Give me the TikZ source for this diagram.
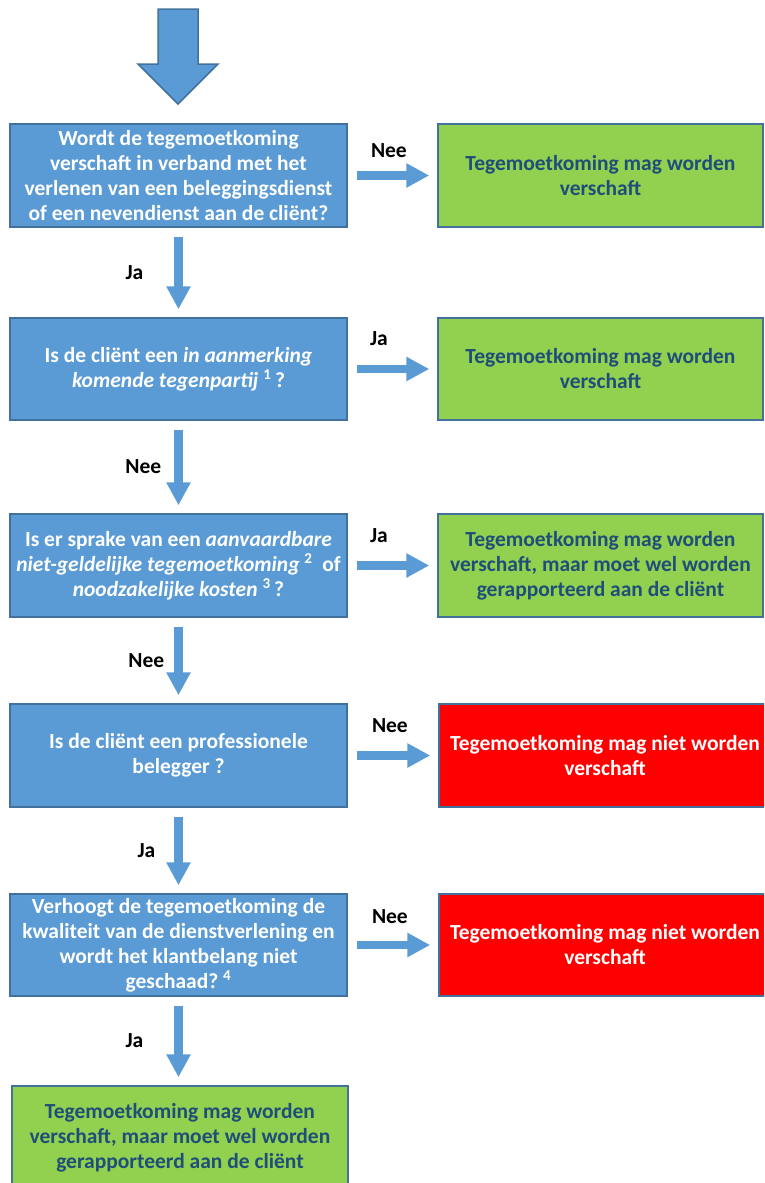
\documentclass[tikz,border=0pt]{standalone}
\usepackage{fontspec}
\setmainfont{Carlito}
\usepackage{tikz}
\usetikzlibrary{arrows.meta}
\definecolor{vraagblauw}{HTML}{5B9BD5}
\definecolor{randblauw}{HTML}{41719C}
\definecolor{okgroen}{HTML}{92D050}
\definecolor{tekstblauw}{HTML}{1F4E79}
\definecolor{stoprood}{HTML}{FF0000}
\newcommand{\vraagfont}{\bfseries\fontsize{21.5}{25}\selectfont}

\begin{document}
\begin{tikzpicture}[x=1pt, y=-1pt,
    vraag/.style={draw=randblauw, line width=1.5pt, fill=vraagblauw, text=white,
      font=\vraagfont, align=center, minimum width=337pt, minimum height=103pt, inner sep=0pt},
    toegestaan/.style={vraag, fill=okgroen, text=tekstblauw, minimum width=325pt},
    verboden/.style={vraag, fill=stoprood, minimum width=332pt},
    pijl/.style={draw=vraagblauw, line width=8.5pt, -{Triangle[width=23pt, length=23pt]},
      shorten <=9pt, shorten >=8pt},
    antwoord/.style={font=\vraagfont, inner sep=0pt}]
    \useasboundingbox (0,0) rectangle (764,1183);
    \clip (0,0) rectangle (764,1183);
    % instap
    \fill[vraagblauw, draw=randblauw, line width=1.5pt]
      (158,9) -- (198,9) -- (198,64) -- (218,64) -- (178,104) -- (138,64) -- (158,64) -- cycle;
    % vragen
    \node[vraag] (V1) at (178.5,175.5){Wordt de tegemoetkoming\\verschaft in verband met het\\verlenen van een beleggingsdienst\\of een nevendienst aan de cliënt?};
    \node[vraag, minimum height=102pt] (V2) at (178.5,369){Is de cliënt een \textit{in aanmerking}\\\textit{komende tegenpartij}~\textsuperscript{1}\,?};
    \node[vraag] (V3) at (178.5,565.5){Is er sprake van een \textit{aanvaardbare}\\\textit{niet-geldelijke tegemoetkoming}~\textsuperscript{2}~~of\\\textit{noodzakelijke kosten}~\textsuperscript{3}\,?};
    \node[vraag] (V4) at (178.5,755.5){Is de cliënt een professionele\\belegger ?};
    \node[vraag, minimum height=102pt] (V5) at (178.5,945){Verhoogt de tegemoetkoming de\\kwaliteit van de dienstverlening en\\wordt het klantbelang niet\\geschaad?~\textsuperscript{4}};
    % uitkomsten
    \node[toegestaan] (U1) at (600.5,175.5){Tegemoetkoming mag worden\\verschaft};
    \node[toegestaan, minimum height=102pt] (U2) at (600.5,369){Tegemoetkoming mag worden\\verschaft};
    \node[toegestaan] (U3) at (600.5,565.5){Tegemoetkoming mag worden\\verschaft, maar moet wel worden\\gerapporteerd aan de cliënt};
    \node[verboden] (U4) at (605,755.5){Tegemoetkoming mag niet worden\\verschaft};
    \node[verboden, minimum height=102pt] (U5) at (605,945){Tegemoetkoming mag niet worden\\verschaft};
    \node[toegestaan, minimum width=336pt, minimum height=104pt] (U6) at (180,1138){Tegemoetkoming mag worden\\verschaft, maar moet wel worden\\gerapporteerd aan de cliënt};
    % pijlen naar beneden
    \draw[pijl] (V1.south)--(V2.north) node[antwoord, midway, anchor=east, xshift=-31pt]{Ja};
    \draw[pijl] (V2.south)--(V3.north) node[antwoord, midway, anchor=east, xshift=-13pt]{Nee};
    \draw[pijl] (V3.south)--(V4.north) node[antwoord, midway, anchor=east, xshift=-10pt]{Nee};
    \draw[pijl] (V4.south)--(V5.north) node[antwoord, midway, anchor=east, xshift=-19pt]{Ja};
    \draw[pijl] (V5.south)--(V5.south |- U6.north) node[antwoord, midway, anchor=east, xshift=-31pt]{Ja};
    % pijlen naar rechts
    \draw[pijl] (V1.east)--(U1.west) node[antwoord, pos=0, anchor=west, xshift=19pt, yshift=25pt]{Nee};
    \draw[pijl] (V2.east)--(U2.west) node[antwoord, pos=0, anchor=west, xshift=18pt, yshift=30pt]{Ja};
    \draw[pijl] (V3.east)--(U3.west) node[antwoord, pos=0, anchor=west, xshift=18pt, yshift=30pt]{Ja};
    \draw[pijl] (V4.east)--(U4.west) node[antwoord, pos=0, anchor=west, xshift=20pt, yshift=30pt]{Nee};
    \draw[pijl] (V5.east)--(U5.west) node[antwoord, pos=0, anchor=west, xshift=20pt, yshift=28pt]{Nee};
\end{tikzpicture}
\end{document}
